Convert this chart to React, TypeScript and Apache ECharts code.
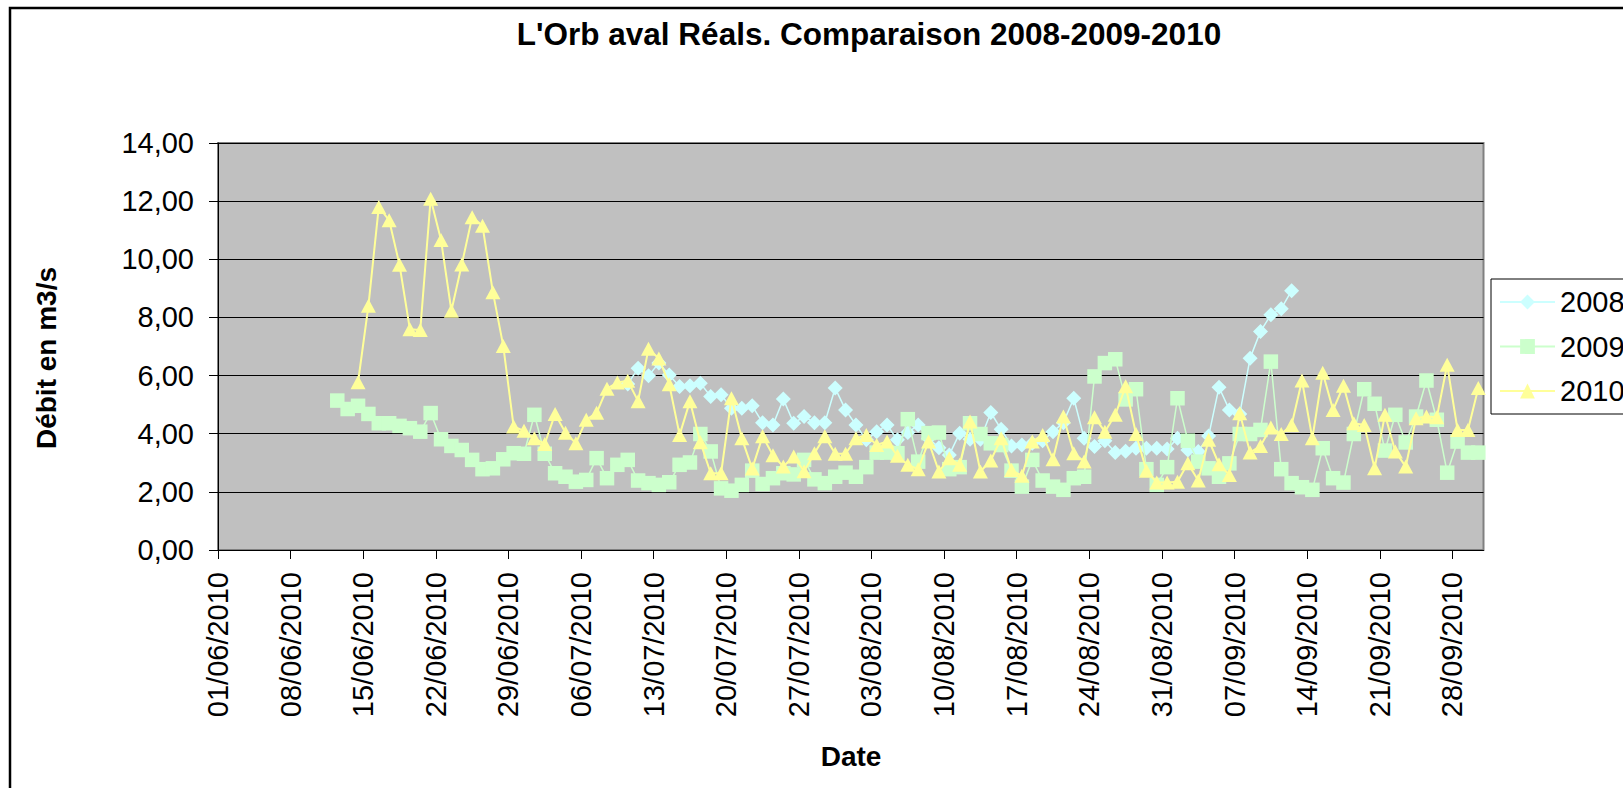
import React, { useEffect, useRef } from "react";
import * as echarts from "echarts";

// ---- Data ----
const baseDate = "01/06/2010"; // first day of the date axis
const axisDays = 122; // 01/06/2010 .. 01/10/2010
const tickStepDays = 7;
const yTicks = [0, 2, 4, 6, 8, 10, 12, 14];

const seriesNames = ["2008", "2009", "2010"];

const start2008 = "10/07/2010";
const values2008 = [
  5.71, 6.25, 5.99, 6.43, 6.02, 5.62, 5.65, 5.74, 5.28, 5.34, 4.88, 4.88, 4.96, 4.38, 4.3, 5.19,
  4.36, 4.59, 4.38, 4.38, 5.57, 4.82, 4.3, 3.79, 4.07, 4.3, 3.79, 4.04, 4.3, 3.84, 3.52, 3.27,
  4.02, 3.81, 3.81, 4.73, 4.15, 3.58, 3.61, 3.67, 3.76, 4.07, 4.38, 5.22, 3.84, 3.56, 3.76, 3.35,
  3.4, 3.5, 3.5, 3.5, 3.47, 3.84, 3.44, 3.39, 3.92, 5.6, 4.82, 4.68, 6.6, 7.52, 8.09, 8.3, 8.92,
];

const start2009 = "12/06/2010";
const values2009 = [
  5.14, 4.85, 4.96, 4.68, 4.36, 4.36, 4.27, 4.19, 4.07, 4.71, 3.81, 3.58, 3.44, 3.1, 2.78, 2.81,
  3.12, 3.33, 3.31, 4.65, 3.31, 2.64, 2.52, 2.35, 2.41, 3.16, 2.47, 2.93, 3.1, 2.39, 2.3, 2.24,
  2.33, 2.93, 3.01, 3.99, 3.39, 2.12, 2.04, 2.24, 2.73, 2.27, 2.47, 2.64, 2.6, 3.1, 2.43, 2.3,
  2.52, 2.66, 2.52, 2.85, 3.35, 3.35, 3.33, 4.5, 3.04, 4.02, 4.04, 2.78, 2.85, 4.36, 3.99, 3.67,
  3.61, 2.73, 2.18, 3.1, 2.39, 2.18, 2.07, 2.47, 2.52, 5.97, 6.43, 6.56, 5.18, 5.53, 2.78, 2.24,
  2.85, 5.22, 3.76, 3.04, 2.81, 2.52, 2.98, 3.99, 3.99, 4.13, 6.48, 2.78, 2.3, 2.16, 2.07, 3.5,
  2.47, 2.32, 3.99, 5.53, 5.03, 3.42, 4.65, 3.7, 4.59, 5.83, 4.48, 2.66, 3.73, 3.35, 3.35,
];

const start2010 = "14/06/2010";
const values2010 = [
  5.77, 8.4, 11.8, 11.34, 9.81, 7.59, 7.57, 12.08, 10.66, 8.23, 9.82, 11.45, 11.15, 8.87, 7.02,
  4.25, 4.1, 3.84, 3.65, 4.68, 4.03, 3.67, 4.48, 4.72, 5.55, 5.76, 5.82, 5.12, 6.92, 6.59, 5.7,
  3.96, 5.12, 3.71, 2.64, 2.64, 5.22, 3.84, 2.8, 3.91, 3.26, 2.87, 3.22, 2.71, 3.33, 3.91, 3.31,
  3.31, 3.84, 3.96, 3.61, 3.73, 3.24, 2.93, 2.78, 3.73, 2.7, 3.16, 2.93, 4.42, 2.7, 3.08, 3.84,
  2.75, 2.55, 3.73, 3.96, 3.12, 4.59, 3.33, 3.04, 4.57, 4.07, 4.65, 5.63, 3.99, 2.73, 2.32, 2.32,
  2.35, 2.98, 2.39, 3.79, 2.95, 2.58, 4.7, 3.35, 3.58, 4.21, 3.99, 4.3, 5.83, 3.84, 6.1, 4.82,
  5.65, 4.36, 4.3, 2.81, 4.65, 3.39, 2.87, 4.53, 4.59, 4.57, 6.37, 4.13, 4.13, 5.57,
];

const colors = ["#CCFFFF", "#CCFFCC", "#FFFF99"];

// ---- helpers ----
const DAY = 86400000;
function parseFr(s: string): number {
  const [d, m, y] = s.split("/").map(Number);
  return Date.UTC(y, m - 1, d);
}
const base = parseFr(baseDate);
function dayIndex(s: string): number {
  return Math.round((parseFr(s) - base) / DAY);
}
function fmtDay(v: number): string {
  const t = new Date(base + Math.round(v) * DAY);
  const dd = String(t.getUTCDate()).padStart(2, "0");
  const mm = String(t.getUTCMonth() + 1).padStart(2, "0");
  return `${dd}/${mm}/${t.getUTCFullYear()}`;
}
// Points sit in the middle of their day slot (Excel date axis, "between tick marks")
function toPoints(startDate: string, vals: number[]): [number, number][] {
  const s = dayIndex(startDate);
  return vals.map((v, i) => [s + i + 0.5, v]);
}

const FONT = "'Liberation Sans', Arial, Helvetica, sans-serif";

export default function App() {
  const ref = useRef<HTMLDivElement>(null);
  useEffect(() => {
    if (!ref.current) return;
    const chart = echarts.init(ref.current, undefined, { renderer: "svg" });
    const datasets = [
      toPoints(start2008, values2008),
      toPoints(start2009, values2009),
      toPoints(start2010, values2010),
    ];
    const symbols = ["diamond", "rect", "triangle"];
    const sizes: any[] = [[15, 15], 14.5, [15, 14]];
    const widths = [1.5, 1.5, 2];
    chart.setOption({
      animation: false,
      backgroundColor: "#ffffff",
      textStyle: { fontFamily: FONT },
      grid: {
        left: 218,
        top: 143,
        right: 139.5,
        bottom: 238,
        show: true,
        backgroundColor: "#C0C0C0",
        borderColor: "#808080",
        borderWidth: 2,
      },
      xAxis: {
        type: "value",
        min: 0,
        max: axisDays,
        interval: tickStepDays,
        axisLine: { show: true, lineStyle: { color: "#000", width: 1 } },
        axisTick: { show: true, inside: false, length: 9, lineStyle: { color: "#000" } },
        splitLine: { show: false },
        axisLabel: {
          rotate: 90,
          margin: 22,
          fontSize: 29,
          color: "#000",
          fontFamily: FONT,
          showMaxLabel: false,
          formatter: (v: number) => (v % tickStepDays === 0 && v < axisDays ? fmtDay(v) : ""),
        },
      },
      yAxis: {
        type: "value",
        min: yTicks[0],
        max: yTicks[yTicks.length - 1],
        interval: 2,
        axisLine: { show: true, lineStyle: { color: "#000", width: 1 } },
        axisTick: { show: true, inside: false, length: 9, lineStyle: { color: "#000" } },
        splitLine: { show: true, lineStyle: { color: "#000", width: 1 } },
        axisLabel: {
          margin: 24,
          fontSize: 29,
          color: "#000",
          fontFamily: FONT,
          formatter: (v: number) => v.toFixed(2).replace(".", ","),
        },
      },
      legend: {
        show: true,
        orient: "vertical",
        left: 1491,
        top: 279,
        padding: [8, 120, 8, 8],
        backgroundColor: "#ffffff",
        borderColor: "#000",
        borderWidth: 1,
        itemWidth: 55,
        itemHeight: 18.5,
        itemGap: 14.5,
        textStyle: { fontSize: 29, color: "#000", fontFamily: FONT, lineHeight: 30 },
        data: seriesNames,
      },
      series: seriesNames.map((name, i) => ({
        name,
        type: "line",
        data: datasets[i],
        symbol: symbols[i],
        symbolSize: sizes[i],
        showAllSymbol: true,
        z: 2 + i,
        lineStyle: { color: colors[i], width: widths[i] },
        itemStyle: { color: colors[i], borderWidth: 0 },
        emphasis: { disabled: true },
      })),
      graphic: [
        {
          type: "rect",
          shape: { x: 10, y: 8, width: 3000, height: 3000 },
          style: { fill: "none", stroke: "#000", lineWidth: 2.5 },
          silent: true,
          z: -10,
        },
        {
          type: "text",
          x: 869,
          y: 34,
          style: {
            text: "L'Orb aval Réals. Comparaison 2008-2009-2010",
            fontSize: 31.5,
            fontWeight: "bold",
            fontFamily: FONT,
            fill: "#000",
            align: "center",
            verticalAlign: "middle",
          },
        },
        {
          type: "text",
          x: 46,
          y: 358,
          rotation: Math.PI / 2,
          style: {
            text: "Débit en m3/s",
            fontSize: 28,
            fontWeight: "bold",
            fontFamily: FONT,
            fill: "#000",
            align: "center",
            verticalAlign: "middle",
          },
        },
        {
          type: "text",
          x: 851,
          y: 756,
          style: {
            text: "Date",
            fontSize: 28,
            fontWeight: "bold",
            fontFamily: FONT,
            fill: "#000",
            align: "center",
            verticalAlign: "middle",
          },
        },
      ],
    });
    return () => chart.dispose();
  }, []);
  return (
    <div
      ref={ref}
      style={{ position: "fixed", left: 0, top: 0, width: 1623, height: 788 }}
    />
  );
}
